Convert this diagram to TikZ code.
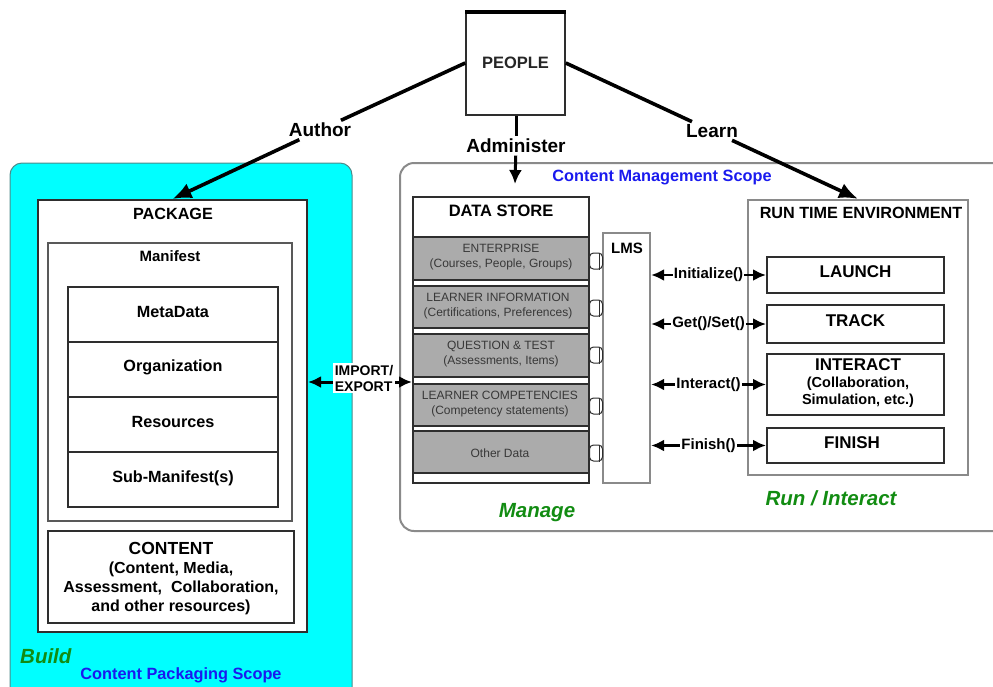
\documentclass[tikz,border=0pt]{standalone}
\usepackage{fontspec}
\setmainfont{Liberation Sans}
\usetikzlibrary{arrows.meta}
\definecolor{cyanbg}{HTML}{00FFFF}
\definecolor{cyanedge}{HTML}{4E8A8A}
\definecolor{scopeblue}{HTML}{1A1AEE}
\definecolor{buildgreen}{HTML}{128C12}
\definecolor{rowgray}{HTML}{ABABAB}
\definecolor{rowtext}{HTML}{383838}
\definecolor{edgegray}{HTML}{8A8A8A}
\definecolor{darkedge}{HTML}{2E2E2E}
\begin{document}
\begin{tikzpicture}[x=1pt,y=-1pt,
  boxw/.style={draw=darkedge, line width=2pt, fill=white, inner sep=0pt},
  graybox/.style={draw=edgegray, line width=2.2pt, fill=white, inner sep=0pt},
  rowbox/.style={draw=darkedge, line width=1.2pt, fill=rowgray, inner sep=0pt, minimum width=176pt},
  titletxt/.style={font=\fontsize{16.2}{18}\selectfont\bfseries, inner sep=1pt},
  itemtxt/.style={font=\fontsize{16.2}{18}\selectfont\bfseries, inner sep=1pt},
  rowtxt/.style={font=\fontsize{12}{15.5}\selectfont, text=rowtext, align=center, inner sep=0pt},
  edgelbl/.style={font=\fontsize{19}{20}\selectfont\bfseries, inner sep=2.5pt},
  fnlbl/.style={font=\fontsize{15}{16}\selectfont\bfseries, fill=white, inner sep=1pt},
  greenlbl/.style={font=\fontsize{20.5}{22}\selectfont\bfseries\itshape, text=buildgreen, inner sep=0pt},
  bluelbl/.style={font=\fontsize{16.3}{17}\selectfont\bfseries, text=scopeblue, inner sep=0pt},
  bigarrow/.style={line width=3.6pt, -{Latex[length=19pt,width=16pt]}},
  bigline/.style={line width=3.6pt},
  fnarrow/.style={line width=2.8pt, {Latex[length=13pt,width=12pt]}-{Latex[length=13pt,width=12pt]}},
  socket/.style={draw=darkedge, line width=1pt, fill=white, rounded corners=4pt, minimum width=13pt, minimum height=16pt, inner sep=0pt}
]
\useasboundingbox (0,0) rectangle (993,686);

% ---------- Content Packaging Scope (cyan) ----------
\draw[cyanedge, line width=1pt, fill=cyanbg, rounded corners=12pt] (10,690) -- (10,163) -- (352,163) -- (352,690);

% ---------- Content Management Scope ----------
\draw[edgegray, line width=2pt, rounded corners=14pt] (995,163) -- (400,163) -- (400,531) -- (995,531);
\node[bluelbl] (cmscope) at (662,178) {Content Management Scope};

% ---------- PEOPLE ----------
\node[graybox, draw=darkedge, line width=1.6pt, minimum width=99pt, minimum height=102pt] (people) at (515.5,64) {};
\draw[line width=4pt] (people.north west) -- (people.north east);
\node[font=\fontsize{16.5}{18}\selectfont\bfseries, text=black!85] (peopletxt) at (515.5,63) {PEOPLE};

% ---------- PACKAGE ----------
\node[boxw, minimum width=269pt, minimum height=432pt] (package) at (172.5,416) {};
\node[titletxt] (packagetxt) at (173,214) {PACKAGE};
\node[graybox, draw=black!65, minimum width=244pt, minimum height=278pt] (manifest) at (170,382) {};
\node[titletxt, font=\fontsize{15}{16}\selectfont\bfseries] (manifesttxt) at (170,256) {Manifest};
\node[boxw, minimum width=210pt, minimum height=55pt] (metadata) at (173,314.5) {};
\node[boxw, minimum width=210pt, minimum height=55pt] (organization) at (173,369.5) {};
\node[boxw, minimum width=210pt, minimum height=55pt] (resources) at (173,424.5) {};
\node[boxw, minimum width=210pt, minimum height=55pt] (submanifest) at (173,479.5) {};
\node[itemtxt] (metadatatxt) at (173,312) {MetaData};
\node[itemtxt] (organizationtxt) at (173,367) {Organization};
\node[itemtxt] (resourcestxt) at (173,422) {Resources};
\node[itemtxt] (submanifesttxt) at (173,478) {Sub-Manifest(s)};
\node[graybox, draw=darkedge, minimum width=246pt, minimum height=92pt] (content) at (171,577) {};
\node[font=\fontsize{16}{19}\selectfont\bfseries, align=center, inner sep=0pt] (contenttxt) at (171,579)
  {{\fontsize{17.5}{19}\selectfont CONTENT}\\(Content, Media,\\Assessment,\ \ Collaboration,\\and other resources)};
\node[greenlbl, anchor=west] (build) at (20,656) {Build};
\node[bluelbl] (cpscope) at (181,675) {Content Packaging Scope};

% ---------- DATA STORE ----------
\node[boxw, minimum width=176pt, minimum height=286pt] (datastore) at (501,340) {};
\node[titletxt, font=\fontsize{16.5}{18}\selectfont\bfseries] (datastoretxt) at (501,211) {DATA STORE};
\node[rowbox, minimum height=43pt] (ent) at (501,258.5) {};
\node[rowbox, minimum height=42pt] (linfo) at (501,307) {};
\node[rowbox, minimum height=43pt] (qtest) at (501,355.5) {};
\node[rowbox, minimum height=42pt] (lcomp) at (501,405) {};
\node[rowbox, minimum height=42pt] (other) at (501,452) {};
\node[rowtxt] (enttxt) at (501,257) {ENTERPRISE\\(Courses, People, Groups)};
\node[rowtxt] (linfotxt) at (498,306) {LEARNER INFORMATION\\(Certifications, Preferences)};
\node[rowtxt] (qtesttxt) at (501,354) {QUESTION \& TEST\\(Assessments, Items)};
\node[rowtxt] (lcomptxt) at (500,404) {LEARNER COMPETENCIES\\(Competency statements)};
\node[rowtxt] (othertxt) at (500,453) {Other Data};

% ---------- LMS ----------
\node[graybox, minimum width=47pt, minimum height=250pt] (lms) at (626.5,358) {};
\node[titletxt, font=\fontsize{15}{16}\selectfont\bfseries] (lmstxt) at (627,248) {LMS};
\foreach \nm/\yy in {ent/261,linfo/308,qtest/355,lcomp/406,other/453}{
  \node[socket] (sock\nm) at (596,\yy) {};
  \draw[darkedge, line width=1pt] ([xshift=3pt]sock\nm.north) -- ([xshift=3pt]sock\nm.south);
}

% ---------- RUN TIME ENVIRONMENT ----------
\node[graybox, minimum width=220pt, minimum height=275pt] (rte) at (858,337.5) {};
\node[titletxt] (rtetxt) at (861,213) {RUN TIME ENVIRONMENT};
\node[boxw, minimum width=177pt, minimum height=36pt] (launch) at (855.5,275) {};
\node[boxw, minimum width=177pt, minimum height=38pt] (track) at (855.5,324) {};
\node[boxw, minimum width=177pt, minimum height=61pt] (interact) at (855.5,384.5) {};
\node[boxw, minimum width=177pt, minimum height=35pt] (finish) at (855.5,445.5) {};
\node[font=\fontsize{17}{18}\selectfont\bfseries, inner sep=0pt] (launchtxt) at (855.5,272) {LAUNCH};
\node[font=\fontsize{17}{18}\selectfont\bfseries, inner sep=0pt] (tracktxt) at (855.5,321) {TRACK};
\node[font=\fontsize{14.5}{17}\selectfont\bfseries, align=center, inner sep=0pt] (interacttxt) at (858,383)
  {{\fontsize{17}{17}\selectfont INTERACT}\\(Collaboration,\\Simulation, etc.)};
\node[font=\fontsize{17}{18}\selectfont\bfseries, inner sep=0pt] (finishtxt) at (852,443) {FINISH};
\node[greenlbl] (runinteract) at (831,498) {Run / Interact};
\node[greenlbl] (manage) at (537,513) {Manage};

% ---------- function arrows LMS <-> RTE ----------
\draw[fnarrow] (lms.east |- launch.west) -- (launch.west) node[fnlbl, midway] (initlbl) {Initialize()};
\draw[fnarrow] (lms.east |- track.west) -- (track.west) node[fnlbl, midway] (getsetlbl) {Get()/Set()};
\draw[fnarrow] (lms.east |- interact.west) -- (interact.west) node[fnlbl, midway] (interactlbl) {Interact()};
\draw[fnarrow] (lms.east |- finish.west) -- (finish.west) node[fnlbl, midway] (finishlbl) {Finish()};

% ---------- IMPORT / EXPORT ----------
\coordinate (ieL) at (package.east |- 0,382);
\coordinate (ieR) at (datastore.west |- 0,382);
\draw[fnarrow, line width=3pt] (ieL) -- (ieR);
\node[font=\fontsize{14}{16}\selectfont\bfseries, fill=white, align=left, inner sep=1.5pt] (ielbl) at (364,378) {IMPORT/\\EXPORT};

% ---------- PEOPLE connectors ----------
\node[edgelbl] (author) at (320,130) {Author};
\node[edgelbl] (learn) at (712,131) {Learn};
\node[edgelbl] (admin) at (516,146) {Administer};
\coordinate (admintip) at (515,184);
\draw[bigline] ([yshift=1pt]people.west) -- (author);
\draw[bigarrow] (author) -- (package.north);
\draw[bigline] ([yshift=1pt]people.east) -- (learn);
\draw[bigarrow] (learn) -- (rte.north);
\draw[line width=3pt] (people.south -| admin) -- (admin);
\draw[line width=3pt, -{Latex[length=14pt,width=13pt]}] (admin) -- (admintip);
\end{tikzpicture}
\end{document}
